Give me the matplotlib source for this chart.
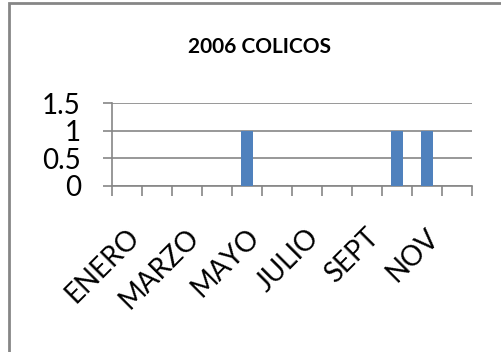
import matplotlib.pyplot as plt
import matplotlib.transforms as mtransforms
from matplotlib.patches import Rectangle
import numpy as np

plt.rcParams['font.family'] = ['Lato', 'DejaVu Sans']

meses = ['ENERO', 'FEBRERO', 'MARZO', 'ABRIL', 'MAYO', 'JUNIO',
         'JULIO', 'AGOSTO', 'SEPT', 'OCT', 'NOV', 'DIC']
casos = [0, 0, 0, 0, 1, 0, 0, 0, 0, 1, 1, 0]
etiquetas_y = [0, 0.5, 1, 1.5]

gris = '#868686'
azul = '#4F81BD'

fig = plt.figure(figsize=(5.01, 3.52), dpi=100)

# marco del grafico
fig.patches.append(Rectangle((9 / 501, -0.1), 1.1, 1.1 - 3 / 352,
                             transform=fig.transFigure, fill=False,
                             edgecolor=gris, linewidth=2))

fig.text(260 / 501, 1 - 47 / 352, '2006 COLICOS', ha='center', va='center',
         fontsize=15, fontweight='bold')

ax = fig.add_axes([112 / 501, 1 - 186 / 352, 360 / 501, 83 / 352])
x = np.arange(len(meses))
ax.bar(x, casos, width=0.4, color=azul, zorder=3)

ax.set_xlim(-0.5, len(meses) - 0.5)
ax.set_ylim(0, 1.5)
ax.set_yticks(etiquetas_y)
ax.set_yticklabels(['0', '0.5', '1', '1.5'])
ax.yaxis.grid(True, color=gris, linewidth=1.2, zorder=0)

for side in ['top', 'right']:
    ax.spines[side].set_visible(False)
for side in ['left', 'bottom']:
    ax.spines[side].set_color(gris)
    ax.spines[side].set_linewidth(1.2)

ax.tick_params(axis='y', length=6.5, width=1.2, color=gris, pad=16,
               labelsize=20)

# marcas entre categorias, etiquetas cada dos meses
ax.set_xticks(x[::2])
ax.set_xticklabels(meses[::2], rotation=45, ha='right', va='center',
                   rotation_mode='anchor')
ax.set_xticks(np.arange(len(meses) + 1) - 0.5, minor=True)
ax.tick_params(axis='x', which='major', length=0, pad=34, labelsize=20)
ax.tick_params(axis='x', which='minor', length=7, width=1.2, color=gris)

desplaza = mtransforms.ScaledTranslation(8 / 100, 0, fig.dpi_scale_trans)
for lab in ax.get_xticklabels():
    lab.set_transform(lab.get_transform() + desplaza)

fig.savefig('out.png', dpi=100)
